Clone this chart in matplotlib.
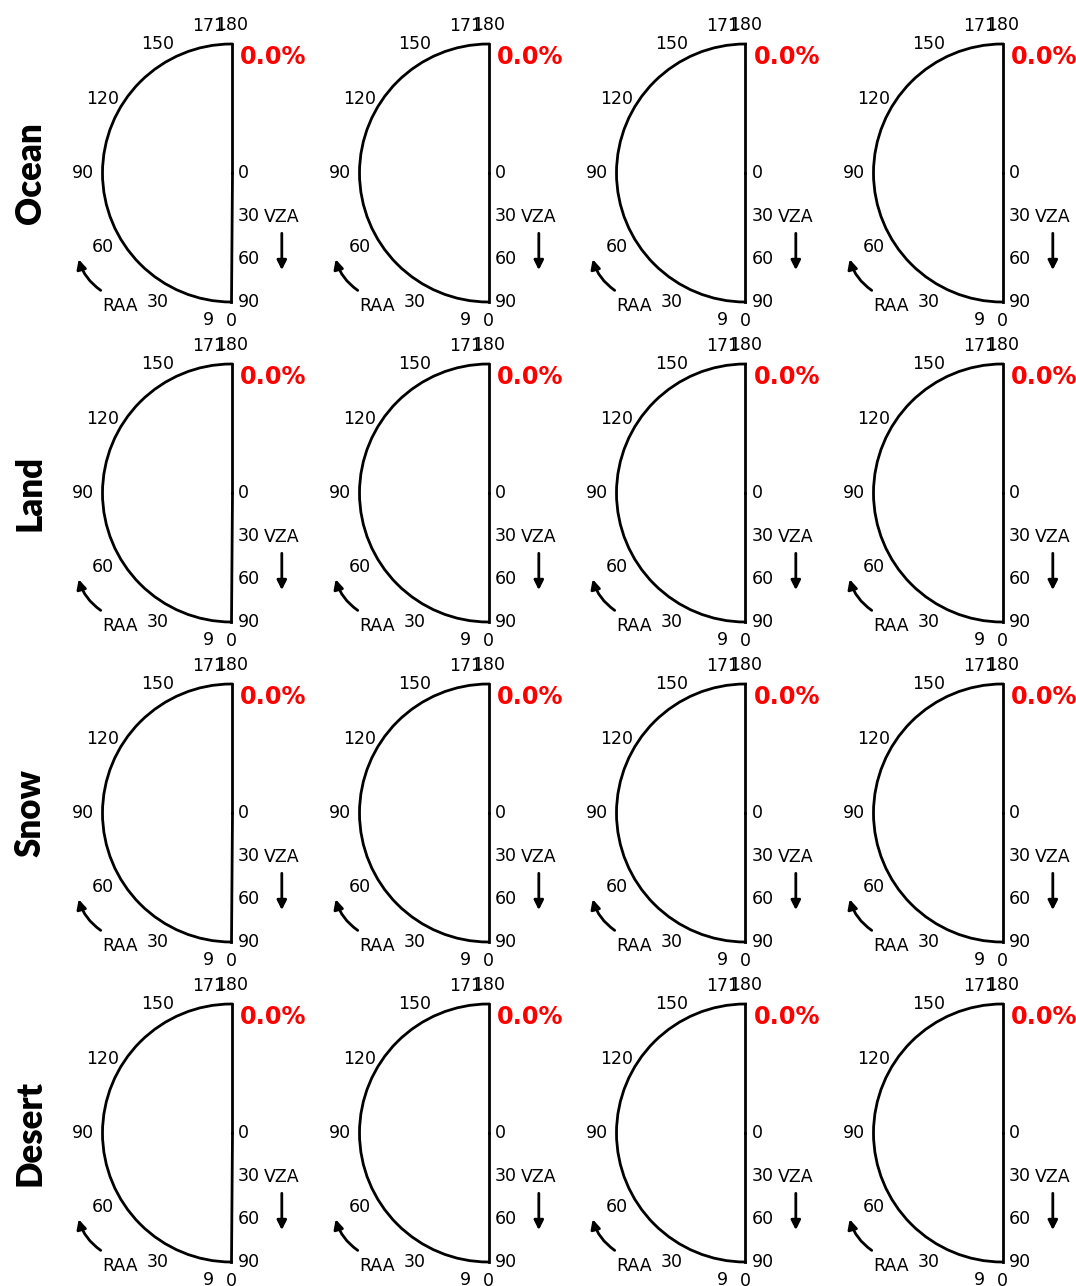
import numpy as np
import matplotlib
matplotlib.use('Agg')
import matplotlib.pyplot as plt


surfaces = ['Ocean', 'Land', 'Snow', 'Desert']
n_cols = 4
# fraction of valid retrievals shown in each panel (all empty here)
pct = [
    [0.0, 0.0, 0.0, 0.0],
    [0.0, 0.0, 0.0, 0.0],
    [0.0, 0.0, 0.0, 0.0],
    [0.0, 0.0, 0.0, 0.0],
]
raa_ticks = [0, 9, 30, 60, 90, 120, 150, 171, 180]
vza_ticks = [0, 30, 60, 90]
vza_max = 90

W, H = 1076, 1286
fig = plt.figure(figsize=(W / 100, H / 100), dpi=100)

# polar axes are square; the half disc sits in the middle of the box
box = 258
x0, dx = 38, 257
y0, dy = 44, 320

for i, name in enumerate(surfaces):
    for j in range(n_cols):
        left = (x0 + dx * j) / W
        bottom = 1 - (y0 + dy * i + box) / H
        ax = fig.add_axes([left, bottom, box / W, box / H], projection='polar')
        ax.set_theta_zero_location('S')
        ax.set_theta_direction(-1)
        ax.set_thetamin(0)
        ax.set_thetamax(180)
        ax.set_rlim(0, vza_max)
        ax.set_rticks(vza_ticks)
        ax.set_thetagrids(raa_ticks, [str(t) for t in raa_ticks])
        ax.grid(False)
        ax.tick_params(labelsize=12.5, colors='black')
        ax.tick_params(axis='y', pad=1)
        for sp in ax.spines.values():
            sp.set_linewidth(2.0)
            sp.set_color('black')

        ax.text(0.783, 0.949, f'{pct[i][j]:.1f}%', transform=ax.transAxes,
                color='red', fontsize=17.3, fontweight='bold',
                ha='left', va='center')

        ax.text(0.945, 0.328, 'VZA', transform=ax.transAxes,
                fontsize=12.5, ha='center', va='center')
        ax.annotate('', xy=(0.945, 0.113), xytext=(0.945, 0.277),
                    xycoords='axes fraction', textcoords='axes fraction',
                    arrowprops=dict(arrowstyle='-|>', lw=2, color='black',
                                    mutation_scale=14))

        ax.text(0.318, -0.016, 'RAA', transform=ax.transAxes,
                fontsize=12.5, ha='center', va='center')
        ax.annotate('', xy=(0.155, 0.176), xytext=(0.252, 0.039),
                    xycoords='axes fraction', textcoords='axes fraction',
                    arrowprops=dict(arrowstyle='-|>', lw=2, color='black',
                                    mutation_scale=14,
                                    connectionstyle='arc3,rad=-0.2'))

    fig.text(30 / W, 1 - (y0 + dy * i + box / 2) / H, name,
             rotation=90, fontsize=25, fontweight='heavy', family='Lato',
             ha='center', va='center')

fig.savefig('out.png', dpi=100)
